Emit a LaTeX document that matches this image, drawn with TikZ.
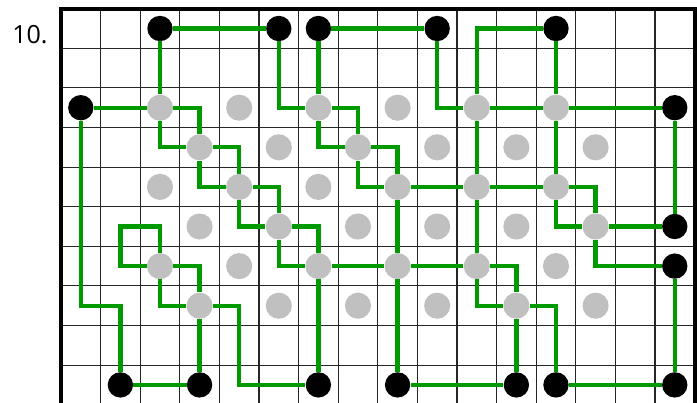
\documentclass[tikz,border=0pt]{standalone}
\usepackage{fontspec}
\setmainfont{Open Sans}
\definecolor{wiregreen}{RGB}{0,153,0}
\definecolor{dotgray}{RGB}{192,192,192}

\begin{document}
\begin{tikzpicture}[x=1cm,y=1cm,
  gridline/.style={black!85,line width=0.75pt},
  border/.style={black,line width=2.9pt},
  wire/.style={draw=wiregreen,line width=3.1pt},
  blackdot/.style={circle,fill=black,inner sep=0pt,minimum size=0.64cm},
  graydot/.style={circle,fill=dotgray,inner sep=0pt,minimum size=0.66cm}]
  \useasboundingbox (-2.040,0.720) rectangle (15.561,-9.432);
  \draw[gridline,shift={(-0.5,0.5)}] (0,-10) grid (16,0);
  \draw[border] (-0.5,-9.5) -- (-0.5,0.5) -- (15.5,0.5) -- (15.5,-9.5);
  \node[anchor=base east,inner sep=0pt,font=\fontsize{18}{20}\selectfont] (num) at (-0.83,-0.37) {10.};
  \foreach \r in {2,...,7}
    \foreach \k in {0,...,5}{
      \pgfmathtruncatemacro\c{2*\k+2+mod(\r,2)}
      \node[graydot] (g\c-\r) at (\c,-\r) {};
    }
  \foreach \c/\r in {2/0,5/0,6/0,9/0,12/0,0/2,15/2,15/5,15/6,1/9,3/9,6/9,8/9,11/9,12/9,15/9}
    \node[blackdot] (b\c-\r) at (\c,-\r) {};
  \coordinate (c1-5) at (1,-5);
  \coordinate (c1-7) at (1,-7);
  \coordinate (c4-9) at (4,-9);
  \path[wire] (b2-0) -- (b5-0) (b2-0) -- (g2-2) (b0-2) -- (g2-2);
  \path[wire] (b5-0) |- (g6-2) (b6-0) -- (b9-0) (b6-0) -- (g6-2);
  \path[wire] (b9-0) |- (g10-2) (b12-0) -| (g10-2) (b12-0) -- (g12-2);
  \path[wire] (g10-2) -- (g12-2) -- (b15-2) (g10-2) -- (g10-4) -- (g10-6) (g12-2) -- (g12-4);
  \path[wire] (g2-2) -| (g3-3) (g2-2) |- (g3-3) (g3-3) -| (g4-4) (g3-3) |- (g4-4);
  \path[wire] (g4-4) -| (g5-5) (g4-4) |- (g5-5) (g5-5) -| (g6-6) (g5-5) |- (g6-6);
  \path[wire] (g6-2) -| (g7-3) (g6-2) |- (g7-3) (g7-3) -| (g8-4) (g7-3) |- (g8-4);
  \path[wire] (g8-4) -- (g10-4) -- (g12-4) (g12-4) -| (g13-5) (g12-4) |- (g13-5);
  \path[wire] (g13-5) -- (b15-5) (g13-5) |- (b15-6) (b15-2) -- (b15-5);
  \path[wire] (b15-6) -- (b15-9) -- (b12-9) (b12-9) |- (g11-7) (g11-7) -- (b11-9) -- (b8-9);
  \path[wire] (b8-9) -- (g8-6) -- (g8-4) (g6-6) -- (g8-6) -- (g10-6);
  \path[wire] (g10-6) -| (g11-7) (g10-6) |- (g11-7) (g6-6) -- (b6-9);
  \path[wire] (b6-9) -- (c4-9) |- (g3-7) (g3-7) -- (b3-9) -- (b1-9) (b0-2) |- (c1-7) -- (b1-9);
  \path[wire] (g2-6) |- (c1-5) |- (g2-6) (g2-6) -| (g3-7) (g2-6) |- (g3-7);
\end{tikzpicture}
\end{document}
